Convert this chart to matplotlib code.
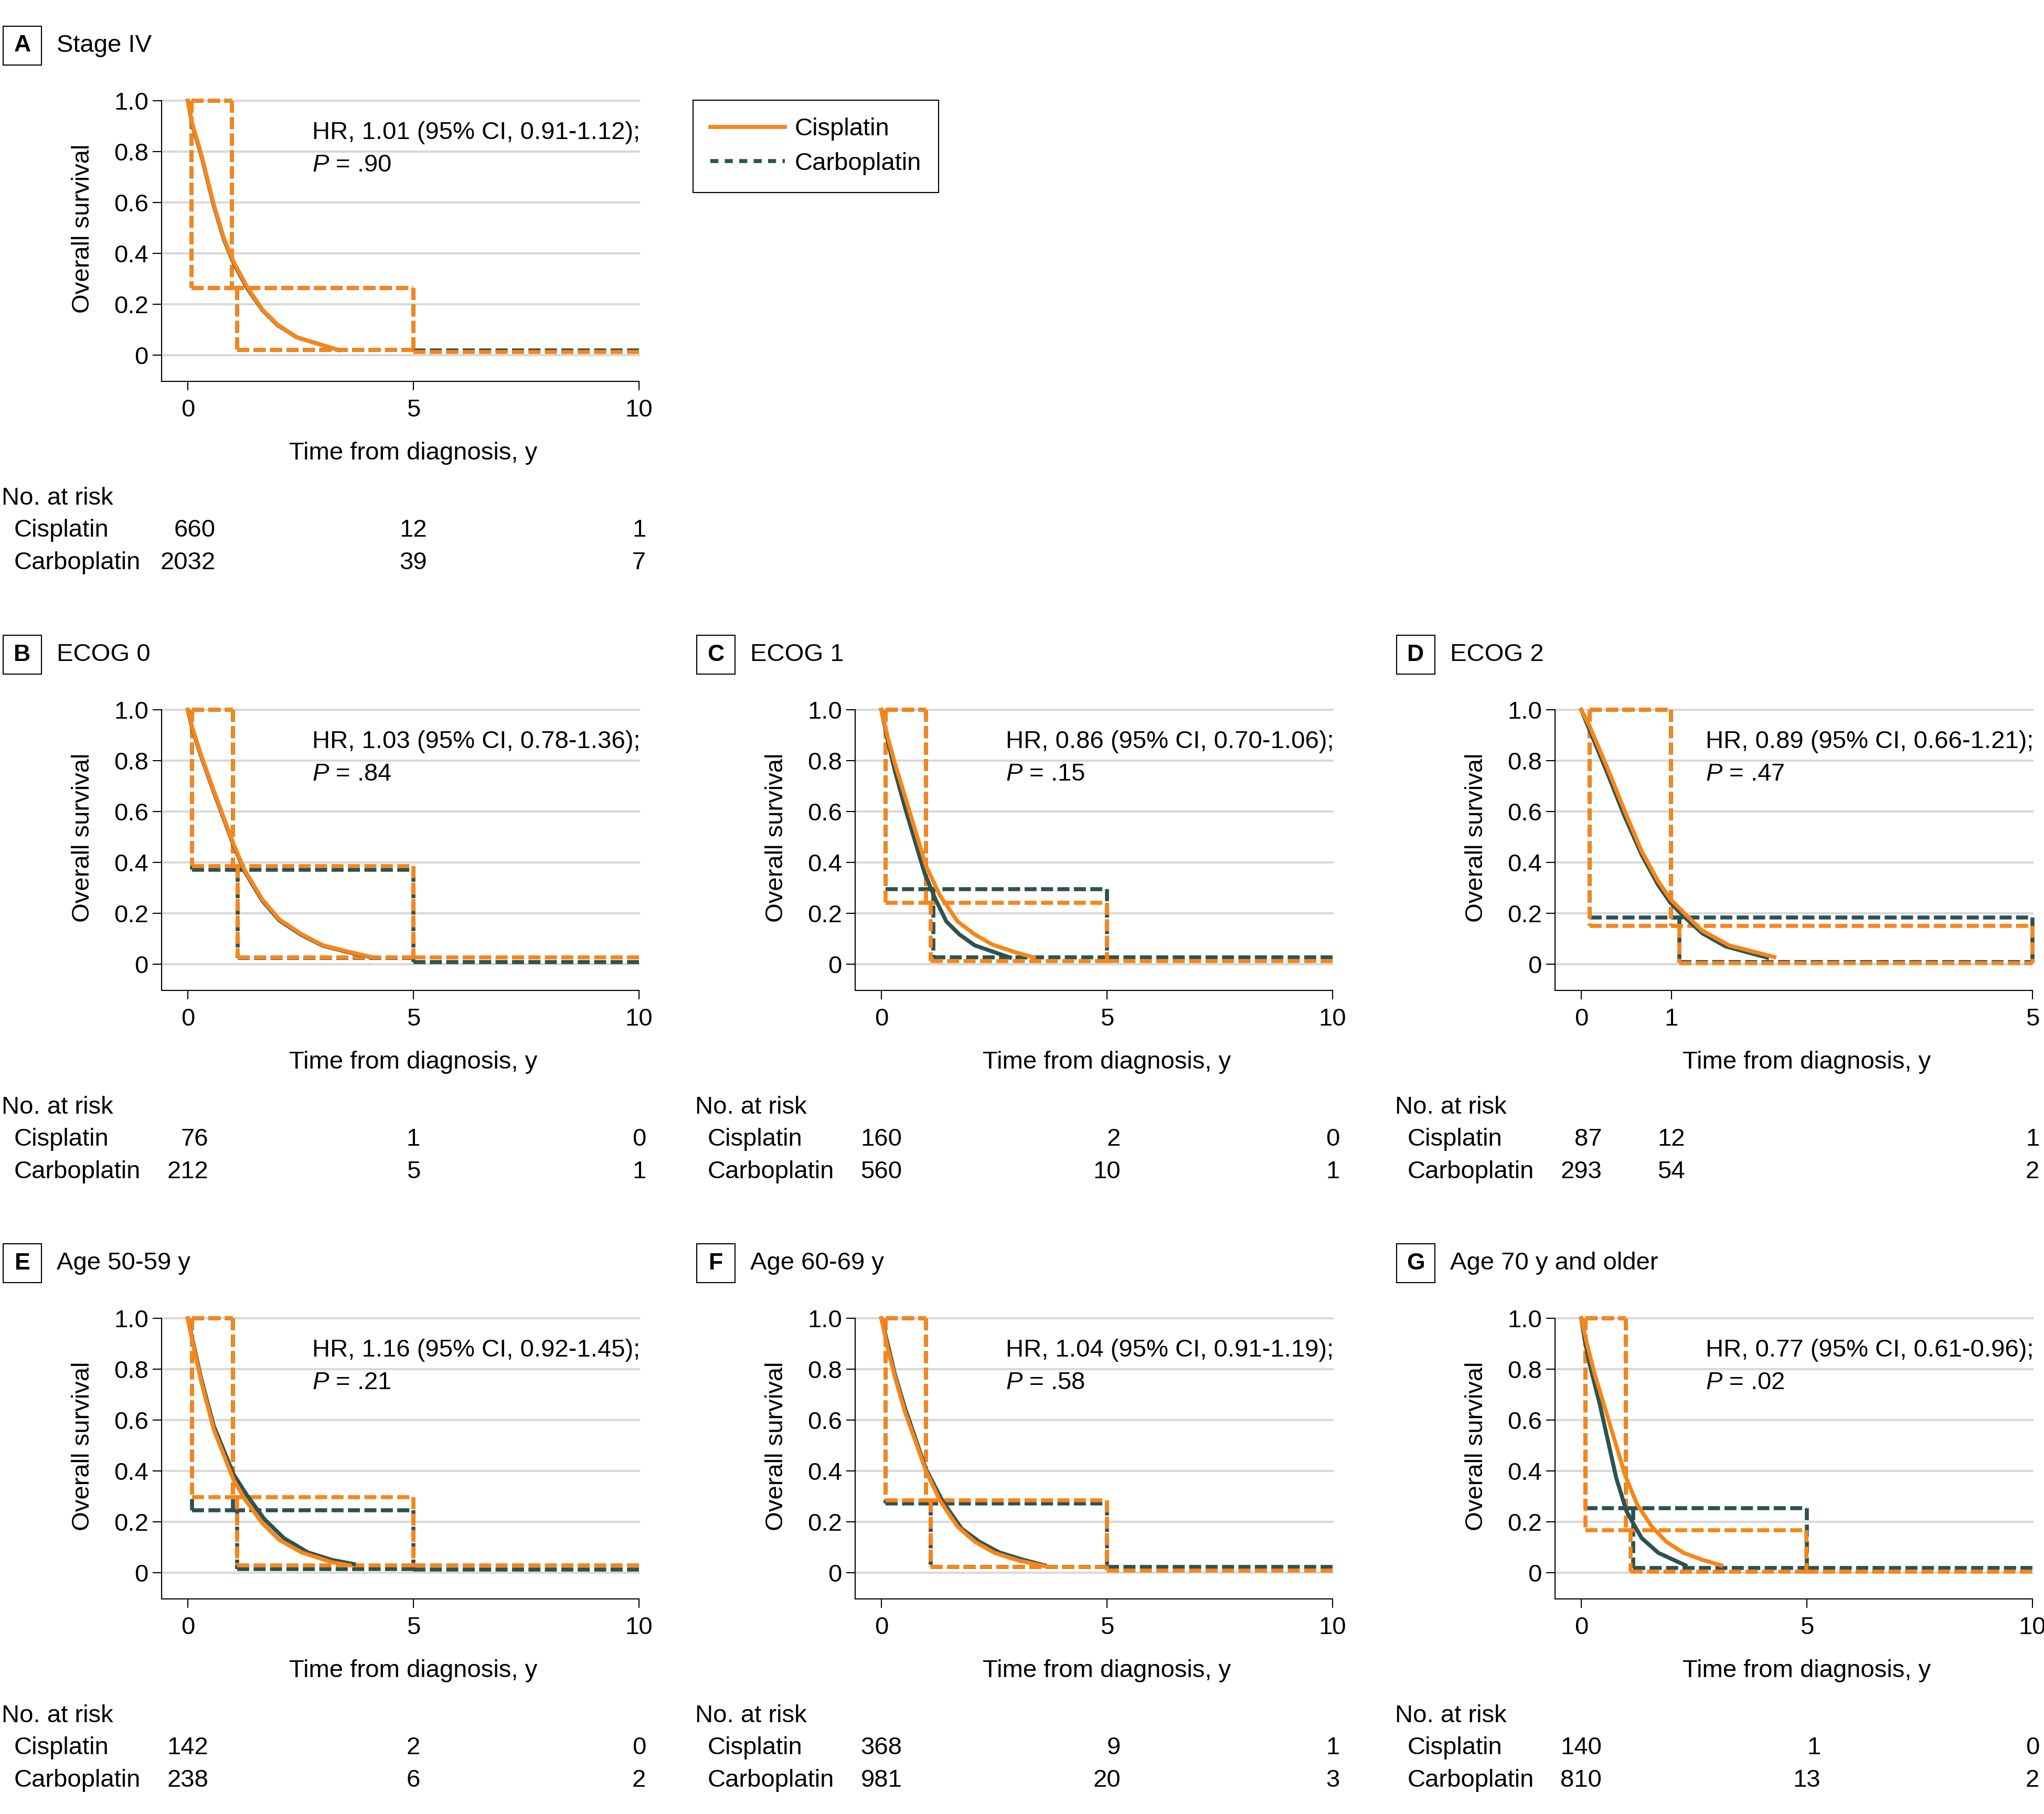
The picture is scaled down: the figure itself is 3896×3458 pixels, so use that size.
import matplotlib
matplotlib.use('Agg')
import matplotlib.pyplot as plt
from matplotlib.patches import Rectangle
from matplotlib.lines import Line2D
from matplotlib.collections import LineCollection
from matplotlib import transforms

plt.rcParams['font.family'] = ['Liberation Sans', 'DejaVu Sans']
plt.rcParams['mathtext.fontset'] = 'custom'
plt.rcParams['mathtext.it'] = 'Liberation Sans:italic'
plt.rcParams['mathtext.rm'] = 'Liberation Sans'

# colours / sizes
ORANGE = '#F7861A'
GREEN = '#2C5352'
GRID = '#d9d9d9'
FS = 34
W, H = 3896, 3458

# ---- data ----
# A  Stage IV
a_cis_t = [0, 0.1, 0.3, 0.58, 0.8, 1.02, 1.31, 1.65, 1.99, 2.42, 3.34]
a_cis_s = [1.0, 0.91, 0.79, 0.59, 0.46, 0.365, 0.27, 0.18, 0.12, 0.07, 0.02]
a_carb_t = [0, 0.1, 0.3, 0.58, 0.8, 1.02, 1.31, 1.65, 1.99, 2.42, 3.34]
a_carb_s = [1.0, 0.905, 0.785, 0.585, 0.455, 0.36, 0.265, 0.178, 0.118, 0.07, 0.02]
a_cis_band_t = [10, 5, 5, 0.98, 0.98, 0.08, 0.08, 1.09, 1.09, 5]
a_cis_band_s = [0.012, 0.012, 0.265, 0.265, 1.0, 1.0, 0.265, 0.265, 0.02, 0.02]
a_carb_band_t = [10, 5, 5, 0.98, 0.98, 0.08, 0.08, 1.09, 1.09, 5]
a_carb_band_s = [0.018, 0.018, 0.265, 0.265, 1.0, 1.0, 0.265, 0.265, 0.02, 0.02]

# B  ECOG 0
b_cis_t = [0, 0.1, 0.3, 0.58, 1.02, 1.26, 1.65, 2.03, 2.52, 3.0, 3.59, 4.12]
b_cis_s = [1.0, 0.93, 0.82, 0.68, 0.47, 0.37, 0.255, 0.176, 0.118, 0.074, 0.048, 0.026]
b_carb_t = [0, 0.1, 0.3, 0.58, 1.02, 1.26, 1.65, 2.03, 2.52, 3.0, 3.59, 4.12]
b_carb_s = [1.0, 0.925, 0.815, 0.675, 0.465, 0.365, 0.25, 0.172, 0.115, 0.072, 0.046, 0.025]
b_cis_band_t = [10, 5, 5, 1.0, 1.0, 0.1, 0.1, 1.11, 1.11, 5]
b_cis_band_s = [0.026, 0.026, 0.386, 0.386, 1.0, 1.0, 0.386, 0.386, 0.026, 0.026]
b_carb_band_t = [10, 5, 5, 1.0, 1.0, 0.1, 0.1, 1.11, 1.11, 5]
b_carb_band_s = [0.009, 0.009, 0.372, 0.372, 1.0, 1.0, 0.372, 0.372, 0.024, 0.024]

# C  ECOG 1
c_cis_t = [0, 0.14, 0.3, 0.52, 0.99, 1.3, 1.69, 2.07, 2.46, 2.95, 3.38]
c_cis_s = [1.0, 0.894, 0.79, 0.662, 0.386, 0.27, 0.168, 0.117, 0.077, 0.048, 0.026]
c_carb_t = [0, 0.14, 0.3, 0.52, 0.96, 1.2, 1.44, 1.73, 2.07, 2.85]
c_carb_s = [1.0, 0.88, 0.76, 0.618, 0.357, 0.255, 0.168, 0.117, 0.074, 0.026]
c_cis_band_t = [10, 5, 5, 0.99, 0.99, 0.09, 0.09, 1.09, 1.09, 5]
c_cis_band_s = [0.012, 0.012, 0.241, 0.241, 1.0, 1.0, 0.241, 0.241, 0.012, 0.012]
c_carb_band_t = [10, 5, 5, 0.99, 0.99, 0.09, 0.09, 1.15, 1.15, 5]
c_carb_band_s = [0.026, 0.026, 0.295, 0.295, 1.0, 1.0, 0.295, 0.295, 0.026, 0.026]

# D  ECOG 2
d_cis_t = [0, 0.09, 0.3, 0.48, 0.67, 0.85, 0.99, 1.13, 1.34, 1.64, 2.14]
d_cis_s = [1.0, 0.938, 0.763, 0.604, 0.444, 0.328, 0.255, 0.205, 0.132, 0.074, 0.028]
d_carb_t = [0, 0.09, 0.3, 0.48, 0.67, 0.85, 0.99, 1.13, 1.34, 1.6, 2.06]
d_carb_s = [1.0, 0.923, 0.742, 0.582, 0.43, 0.313, 0.241, 0.19, 0.122, 0.07, 0.026]
d_cis_band_t = [5, 5, 0.994, 0.994, 0.093, 0.093, 1.09, 1.09, 5]
d_cis_band_s = [0.004, 0.15, 0.15, 1.0, 1.0, 0.15, 0.15, 0.004, 0.004]
d_carb_band_t = [5, 5, 0.994, 0.994, 0.093, 0.093, 1.09, 1.09, 5]
d_carb_band_s = [0.009, 0.183, 0.183, 1.0, 1.0, 0.183, 0.183, 0.009, 0.009]

# E  Age 50-59 y
e_cis_t = [0, 0.1, 0.3, 0.58, 1.02, 1.26, 1.65, 2.03, 2.52, 3.2, 3.59]
e_cis_s = [1.0, 0.912, 0.75, 0.561, 0.363, 0.29, 0.195, 0.129, 0.08, 0.041, 0.029]
e_carb_t = [0, 0.1, 0.3, 0.58, 1.02, 1.31, 1.7, 2.13, 2.66, 3.2, 3.68]
e_carb_s = [1.0, 0.92, 0.76, 0.575, 0.385, 0.305, 0.21, 0.136, 0.08, 0.05, 0.034]
e_cis_band_t = [10, 5, 5, 1.0, 1.0, 0.1, 0.1, 1.1, 1.1, 5]
e_cis_band_s = [0.029, 0.029, 0.297, 0.297, 1.0, 1.0, 0.297, 0.297, 0.029, 0.029]
e_carb_band_t = [10, 5, 5, 1.0, 1.0, 0.1, 0.1, 1.1, 1.1, 5]
e_carb_band_s = [0.012, 0.012, 0.246, 0.246, 1.0, 1.0, 0.246, 0.246, 0.015, 0.015]

# F  Age 60-69 y
f_cis_t = [0, 0.14, 0.3, 0.52, 0.99, 1.3, 1.69, 2.07, 2.51, 3.04, 3.62]
f_cis_s = [1.0, 0.883, 0.77, 0.634, 0.4, 0.283, 0.181, 0.122, 0.078, 0.048, 0.026]
f_carb_t = [0, 0.14, 0.3, 0.52, 0.99, 1.35, 1.78, 2.17, 2.61, 3.14, 3.62]
f_carb_s = [1.0, 0.9, 0.78, 0.649, 0.407, 0.283, 0.173, 0.122, 0.08, 0.051, 0.029]
f_cis_band_t = [10, 5, 5, 0.99, 0.99, 0.09, 0.09, 1.09, 1.09, 5]
f_cis_band_s = [0.009, 0.009, 0.285, 0.285, 1.0, 1.0, 0.285, 0.285, 0.022, 0.022]
f_carb_band_t = [10, 5, 5, 0.99, 0.99, 0.09, 0.09, 1.09, 1.09, 5]
f_carb_band_s = [0.023, 0.023, 0.272, 0.272, 1.0, 1.0, 0.272, 0.272, 0.023, 0.023]

# G  Age 70 y and older
g_cis_t = [0, 0.13, 0.3, 0.5, 0.97, 1.24, 1.57, 1.89, 2.27, 2.68, 3.1]
g_cis_s = [1.0, 0.898, 0.78, 0.663, 0.385, 0.268, 0.18, 0.121, 0.078, 0.051, 0.029]
g_carb_t = [0, 0.08, 0.2, 0.41, 0.78, 1.01, 1.34, 1.71, 2.31]
g_carb_s = [1.0, 0.912, 0.81, 0.663, 0.37, 0.239, 0.136, 0.078, 0.029]
g_cis_band_t = [10, 4.99, 4.99, 0.99, 0.99, 0.09, 0.09, 1.1, 1.1, 4.99]
g_cis_band_s = [0.004, 0.004, 0.168, 0.168, 1.0, 1.0, 0.168, 0.168, 0.004, 0.004]
g_carb_band_t = [10, 5, 5, 0.99, 0.99, 0.09, 0.09, 1.15, 1.15, 5]
g_carb_band_s = [0.019, 0.019, 0.253, 0.253, 1.0, 1.0, 0.253, 0.253, 0.019, 0.019]

# numbers at risk
risk_t_10 = [0, 5, 10]
risk_t_5 = [0, 1, 5]
a_risk_cis, a_risk_carb = [660, 12, 1], [2032, 39, 7]
b_risk_cis, b_risk_carb = [76, 1, 0], [212, 5, 1]
c_risk_cis, c_risk_carb = [160, 2, 0], [560, 10, 1]
d_risk_cis, d_risk_carb = [87, 12, 1], [293, 54, 2]
e_risk_cis, e_risk_carb = [142, 2, 0], [238, 6, 2]
f_risk_cis, f_risk_carb = [368, 9, 1], [981, 20, 3]
g_risk_cis, g_risk_carb = [140, 1, 0], [810, 13, 2]

letters = ['A', 'B', 'C', 'D', 'E', 'F', 'G']
titles = ['Stage IV', 'ECOG 0', 'ECOG 1', 'ECOG 2', 'Age 50-59 y', 'Age 60-69 y', 'Age 70 y and older']
hr_text = ['HR, 1.01 (95% CI, 0.91-1.12);', 'HR, 1.03 (95% CI, 0.78-1.36);',
           'HR, 0.86 (95% CI, 0.70-1.06);', 'HR, 0.89 (95% CI, 0.66-1.21);',
           'HR, 1.16 (95% CI, 0.92-1.45);', 'HR, 1.04 (95% CI, 0.91-1.19);',
           'HR, 0.77 (95% CI, 0.61-0.96);']
p_text = ['.90', '.84', '.15', '.47', '.21', '.58', '.02']

# grid placement (column, row) in pixels
col_left = [308, 1630, 2964]
row_top = [192, 1353, 2513]
AX_W, AX_H = 910, 535
cells = [(0, 0), (0, 1), (1, 1), (2, 1), (0, 2), (1, 2), (2, 2)]

panels = [
    (a_cis_t, a_cis_s, a_carb_t, a_carb_s, a_cis_band_t, a_cis_band_s, a_carb_band_t, a_carb_band_s, risk_t_10, a_risk_cis, a_risk_carb),
    (b_cis_t, b_cis_s, b_carb_t, b_carb_s, b_cis_band_t, b_cis_band_s, b_carb_band_t, b_carb_band_s, risk_t_10, b_risk_cis, b_risk_carb),
    (c_cis_t, c_cis_s, c_carb_t, c_carb_s, c_cis_band_t, c_cis_band_s, c_carb_band_t, c_carb_band_s, risk_t_10, c_risk_cis, c_risk_carb),
    (d_cis_t, d_cis_s, d_carb_t, d_carb_s, d_cis_band_t, d_cis_band_s, d_carb_band_t, d_carb_band_s, risk_t_5, d_risk_cis, d_risk_carb),
    (e_cis_t, e_cis_s, e_carb_t, e_carb_s, e_cis_band_t, e_cis_band_s, e_carb_band_t, e_carb_band_s, risk_t_10, e_risk_cis, e_risk_carb),
    (f_cis_t, f_cis_s, f_carb_t, f_carb_s, f_cis_band_t, f_cis_band_s, f_carb_band_t, f_carb_band_s, risk_t_10, f_risk_cis, f_risk_carb),
    (g_cis_t, g_cis_s, g_carb_t, g_carb_s, g_cis_band_t, g_cis_band_s, g_carb_band_t, g_carb_band_s, risk_t_10, g_risk_cis, g_risk_carb),
]

DASH = (0, (3, 1.1))


def fx(px):
    return px / W


def fy(px):
    return 1 - px / H


def band_segments(t, s):
    # split the outline into single segments, each drawn top->down / left->right
    # so overlapping edges of the two arms share the same dash phase
    segs = []
    for k in range(len(t) - 1):
        p, q = (t[k], s[k]), (t[k + 1], s[k + 1])
        if p == q:
            continue
        if p[0] == q[0]:
            if p[1] < q[1]:
                p, q = q, p
        elif p[0] > q[0]:
            p, q = q, p
        segs.append([p, q])
    return segs


fig = plt.figure(figsize=(W / 100, H / 100), dpi=100)

for i, (cis_t, cis_s, carb_t, carb_s, cb_t, cb_s, kb_t, kb_s, rt, r_cis, r_carb) in enumerate(panels):
    col, row = cells[i]
    left, top = col_left[col], row_top[row]
    ax = fig.add_axes([fx(left), fy(top + AX_H), AX_W / W, AX_H / H])
    xmax = rt[-1]
    ax.set_xlim(-0.058 * xmax, xmax)
    ax.set_ylim(-0.103, 1.0)

    for y in [0, 0.2, 0.4, 0.6, 0.8, 1.0]:
        ax.axhline(y, color=GRID, lw=3, zorder=0.5, clip_on=False)

    # dashed band outlines
    ax.add_collection(LineCollection(band_segments(kb_t, kb_s), colors=GREEN, linewidths=5.5,
                                     linestyles=[DASH], clip_on=False, zorder=2))
    ax.add_collection(LineCollection(band_segments(cb_t, cb_s), colors=ORANGE, linewidths=5.5,
                                     linestyles=[DASH], clip_on=False, zorder=2.1))
    # survival curves
    ax.plot(carb_t, carb_s, color=GREEN, lw=5.5, clip_on=False, zorder=3)
    ax.plot(cis_t, cis_s, color=ORANGE, lw=5.5, clip_on=False, zorder=3.1)

    ax.set_yticks([0, 0.2, 0.4, 0.6, 0.8, 1.0])
    ax.set_yticklabels(['0', '0.2', '0.4', '0.6', '0.8', '1.0'])
    ax.set_xticks(rt)
    ax.set_xticklabels([str(t) for t in rt])
    ax.tick_params(direction='out', length=12, width=1.5, labelsize=FS, colors='black')
    ax.tick_params(axis='y', pad=6)
    ax.tick_params(axis='x', pad=12)
    for s in ['top', 'right']:
        ax.spines[s].set_visible(False)
    for s in ['left', 'bottom']:
        ax.spines[s].set_linewidth(1.5)

    ax.text(-0.165, 0.544, 'Overall survival', rotation=90, transform=ax.transAxes,
            ha='center', va='center', fontsize=FS)
    xl_tr = transforms.blended_transform_factory(ax.transData, fig.transFigure)
    ax.text(xmax / 2, fy(top + 672), 'Time from diagnosis, y', transform=xl_tr,
            ha='center', va='center', fontsize=FS)

    ax.text(0.315, 0.886, hr_text[i], transform=ax.transAxes, ha='left', va='center', fontsize=FS)
    ax.text(0.315, 0.771, r'$\mathit{P}$ = ' + p_text[i], transform=ax.transAxes,
            ha='left', va='center', fontsize=FS)

    # panel letter box and title
    fig.add_artist(Rectangle((fx(left - 302), fy(top - 68)), 73 / W, 74 / H,
                             transform=fig.transFigure, fill=False, lw=1.5, ec='black'))
    fig.text(fx(left - 265.5), fy(top - 105), letters[i], ha='center', va='center',
             fontsize=FS - 2, fontweight='bold')
    fig.text(fx(left - 200), fy(top - 105), titles[i], ha='left', va='center', fontsize=FS)

    # number at risk table
    fig.text(fx(left - 305), fy(top + 758), 'No. at risk', ha='left', va='center', fontsize=FS)
    fig.text(fx(left - 281), fy(top + 819), 'Cisplatin', ha='left', va='center', fontsize=FS)
    fig.text(fx(left - 281), fy(top + 881), 'Carboplatin', ha='left', va='center', fontsize=FS)
    for j, t in enumerate(rt):
        width = max(len(str(r_cis[j])), len(str(r_carb[j])))
        tr = transforms.offset_copy(xl_tr, fig=fig, x=width * 0.556 * FS / 2, units='points')
        ax.text(t, fy(top + 819), str(r_cis[j]), transform=tr, ha='right', va='center', fontsize=FS)
        ax.text(t, fy(top + 881), str(r_carb[j]), transform=tr, ha='right', va='center', fontsize=FS)

handles = [Line2D([], [], color=ORANGE, lw=5.5),
           Line2D([], [], color=GREEN, lw=5.5, ls=(0, (2, 1.6)))]
leg = fig.legend(handles, ['Cisplatin', 'Carboplatin'], loc='upper left',
                 bbox_to_anchor=(fx(1321), fy(191)), borderaxespad=0, fontsize=FS,
                 frameon=True, fancybox=False, edgecolor='black', framealpha=1,
                 handlelength=3.0, handletextpad=0.4, borderpad=0.7, labelspacing=0.46)
leg.get_frame().set_linewidth(1.5)

fig.savefig('out.png', dpi=100)
